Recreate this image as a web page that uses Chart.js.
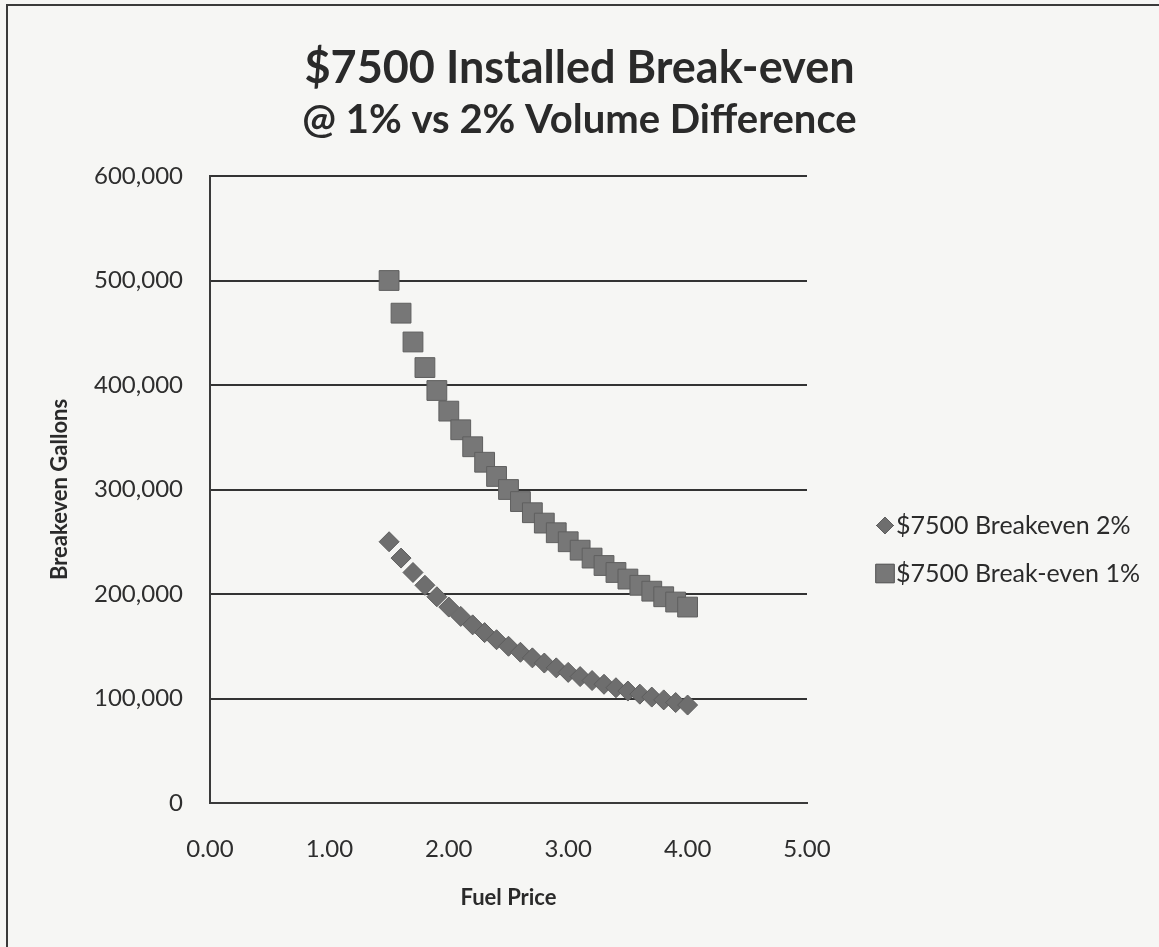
<!DOCTYPE html>
<html>
<head>
<meta charset="utf-8">
<script src="https://cdn.jsdelivr.net/npm/chart.js@4.4.1/dist/chart.umd.min.js"></script>
<style>
  html, body { margin: 0; padding: 0; background: #f6f6f4; }
  #wrap { width: 1159px; height: 947px; position: relative; }
</style>
</head>
<body>
<div id="wrap"><canvas id="c" width="1159" height="947"></canvas></div>
<script>
// ---- data ----
const fuelPrice = [1.5, 1.6, 1.7, 1.8, 1.9, 2.0, 2.1, 2.2, 2.3, 2.4, 2.5, 2.6, 2.7,
                   2.8, 2.9, 3.0, 3.1, 3.2, 3.3, 3.4, 3.5, 3.6, 3.7, 3.8, 3.9, 4.0];
const breakeven2 = [250000, 234375, 220588, 208333, 197368, 187500, 178571, 170455, 163043,
                    156250, 150000, 144231, 138889, 133929, 129310, 125000, 120968, 117188,
                    113636, 110294, 107143, 104167, 101351, 98684, 96154, 93750];
const breakeven1 = [500000, 468750, 441176, 416667, 394737, 375000, 357143, 340909, 326087,
                    312500, 300000, 288462, 277778, 267857, 258621, 250000, 241935, 234375,
                    227273, 220588, 214286, 208333, 202703, 197368, 192308, 187500];
const seriesNames = ['$7500 Breakeven 2%', '$7500 Break-even 1%'];
const titleText = '$7500 Installed Break-even';
const subtitleText = '@ 1% vs 2% Volume Difference';
const xTitle = 'Fuel Price';
const yTitle = 'Breakeven Gallons';
const xTicks = [0, 1, 2, 3, 4, 5];
const yTicks = [0, 100000, 200000, 300000, 400000, 500000, 600000];

const FONT = 'Lato, "Open Sans", sans-serif';

const toPoints = (xs, ys) => xs.map((x, i) => ({x: x, y: ys[i]}));

const frame = {
  id: 'frame',
  beforeDraw(chart) {
    const ctx = chart.ctx;
    ctx.save();
    ctx.fillStyle = '#f6f6f4';
    ctx.fillRect(0, 0, chart.width, chart.height);
    ctx.strokeStyle = '#3a3a3a';
    ctx.lineWidth = 2;
    ctx.strokeRect(7, 5, chart.width + 20, chart.height + 20);
    ctx.restore();
  }
};

const customLegend = {
  id: 'customLegend',
  afterDraw(chart) {
    const ctx = chart.ctx;
    const area = chart.chartArea;
    const mid = (area.top + area.bottom) / 2;
    ctx.save();
    ctx.font = '25px ' + FONT;
    ctx.textBaseline = 'middle';
    ctx.textAlign = 'left';
    chart.data.datasets.forEach((ds, i) => {
      const y = mid + 36 + i * 48;
      const mx = area.right + 78;
      Chart.helpers.drawPoint(ctx, {
        pointStyle: ds.pointStyle,
        radius: i === 0 ? 8.5 : 13,
        rotation: 0,
        borderWidth: 1
      }, mx, y);
      ctx.fillStyle = ds.backgroundColor;
      ctx.strokeStyle = ds.borderColor;
      ctx.lineWidth = 1;
      ctx.fill();
      ctx.stroke();
      ctx.fillStyle = '#2b2b2b';
      ctx.fillText(ds.label, area.right + 89, y);
    });
    ctx.restore();
  }
};

new Chart(document.getElementById('c'), {
  type: 'scatter',
  data: {
    datasets: [
      {
        label: seriesNames[0],
        data: toPoints(fuelPrice, breakeven2),
        pointStyle: 'rectRot',
        pointRadius: 10,
        backgroundColor: '#6e6e6e',
        borderColor: '#5e5e5e',
        borderWidth: 1
      },
      {
        label: seriesNames[1],
        data: toPoints(fuelPrice, breakeven1),
        pointStyle: 'rect',
        pointRadius: 14,
        backgroundColor: '#777777',
        borderColor: '#5f5f5f',
        borderWidth: 1
      }
    ]
  },
  options: {
    responsive: false,
    animation: false,
    layout: { padding: { left: 0, right: 0, top: 0, bottom: 0 } },
    plugins: {
      legend: { display: false },
      tooltip: { enabled: false },
      title: {
        display: true,
        text: titleText,
        color: '#2a2a2a',
        font: { family: FONT, size: 45, weight: 'bold', lineHeight: 1.2 },
        padding: { top: 41, bottom: 0 }
      },
      subtitle: {
        display: true,
        text: subtitleText,
        color: '#2a2a2a',
        font: { family: FONT, size: 40, weight: 'bold', lineHeight: 1.2 },
        padding: { top: 1, bottom: 32 }
      }
    },
    scales: {
      x: {
        type: 'linear',
        min: xTicks[0],
        max: xTicks[xTicks.length - 1],
        afterFit(scale) { scale.height = 144; },
        afterBuildTicks(scale) { scale.ticks = xTicks.map(v => ({value: v})); },
        grid: { display: false, drawTicks: false },
        border: { display: true, color: '#3a3a3a', width: 2 },
        ticks: {
          padding: 32,
          color: '#2e2e2e',
          font: { family: FONT, size: 24 },
          callback: v => Number(v).toFixed(2)
        },
        title: {
          display: true,
          text: xTitle,
          color: '#2a2a2a',
          font: { family: FONT, size: 22, weight: 'bold', lineHeight: 1.2 },
          padding: { top: 0, bottom: 36 }
        }
      },
      y: {
        type: 'linear',
        min: yTicks[0],
        max: yTicks[yTicks.length - 1],
        afterFit(scale) { scale.width = 210; },
        afterBuildTicks(scale) { scale.ticks = yTicks.map(v => ({value: v})); },
        grid: { display: true, drawTicks: false, color: '#333333', lineWidth: 2 },
        border: { display: true, color: '#3a3a3a', width: 2 },
        ticks: {
          padding: 27,
          color: '#2e2e2e',
          font: { family: FONT, size: 24 },
          callback: v => Number(v).toLocaleString('en-US')
        },
        title: {
          display: true,
          text: yTitle,
          color: '#2a2a2a',
          font: { family: FONT, size: 22, weight: 'bold', lineHeight: 1.2 },
          padding: { top: 47, bottom: 0 }
        }
      },
      legendSpace: {
        type: 'linear',
        position: 'right',
        min: 0,
        max: 1,
        afterFit(scale) { scale.width = 352; },
        grid: { display: false, drawTicks: false },
        border: { display: false },
        ticks: { display: false }
      }
    }
  },
  plugins: [frame, customLegend]
});
</script>
</body>
</html>
